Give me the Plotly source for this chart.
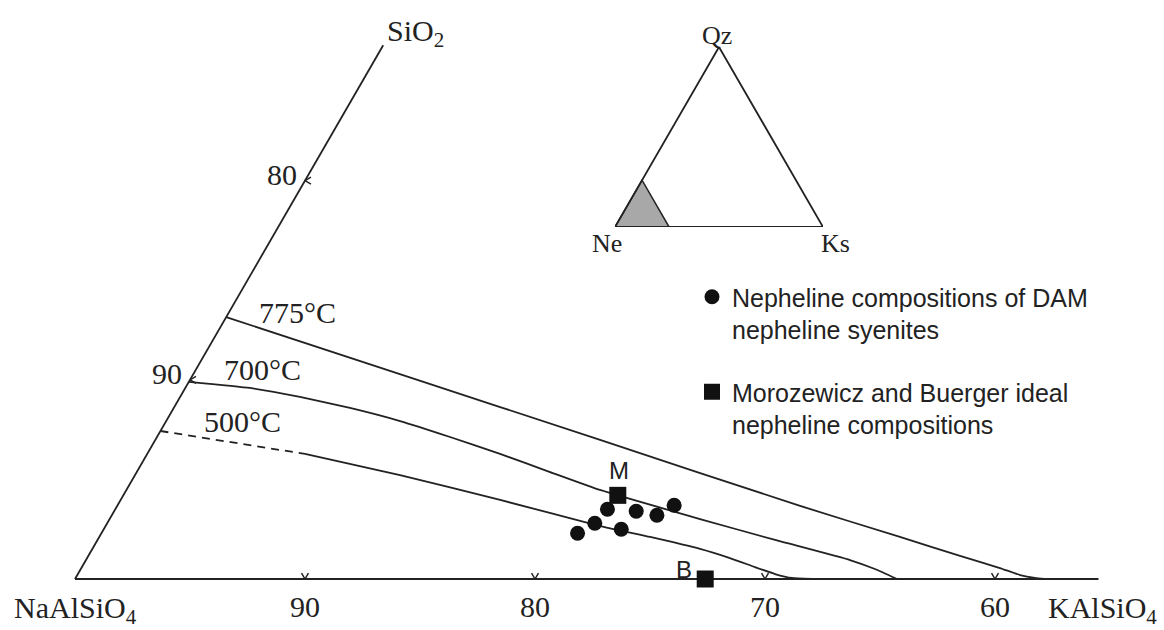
import math
import plotly.graph_objects as go

W, H = 1164, 630

# ---------------- data ----------------
# compositions in wt% KAlSiO4 (Ks) and excess SiO2 ; NaAlSiO4 = 100 - Ks - SiO2
iso775_ks = [0.0, 8.98, 19.34, 29.69, 34.81, 37.90, 39.94, 40.99, 41.71, 42.17]
iso775_si = [13.15, 10.29, 6.98, 3.67, 2.11, 1.16, 0.55, 0.20, 0.05, 0.0]

iso700_ks = [0.0, 2.81, 5.21, 7.66, 10.17, 12.74, 15.34, 17.97, 20.59, 25.67, 29.46, 33.22, 34.53, 35.74]
iso700_si = [9.9, 9.59, 9.14, 8.59, 7.93, 7.13, 6.28, 5.37, 4.47, 3.01, 1.96, 0.95, 0.50, 0.0]

iso500_dash_ks = [0.0, 6.86]
iso500_dash_si = [7.43, 6.28]
iso500_ks = [6.86, 11.52, 16.50, 21.50, 23.95, 26.42, 27.95, 29.26, 30.31, 31.15, 32.04]
iso500_si = [6.28, 5.22, 3.97, 2.66, 2.11, 1.51, 1.05, 0.60, 0.25, 0.05, 0.0]

isotherm_labels = ["775°C", "700°C", "500°C"]

dam_ks = [21.4, 22.7, 23.7, 24.2, 21.2, 22.5, 20.7]
dam_si = [3.5, 3.4, 3.2, 3.7, 2.8, 2.5, 2.3]

ideal_names = ["M", "B"]
ideal_ks = [21.5, 27.4]
ideal_si = [4.2, 0.0]

base_tick_ne = [90, 80, 70, 60]
edge_tick_ne = [90, 80]
base_end_ks = 44.5
edge_end_si = 26.8

inset_corner_labels = ["Ne", "Ks", "Qz"]
inset_field = 26.0  # % Ks and % Qz bounding the enlarged field

legend_names = ["Nepheline compositions of DAM<br>nepheline syenites",
                "Morozewicz and Buerger ideal<br>nepheline compositions"]

# ---------------- helpers ----------------
S3 = math.sqrt(3) / 2


def tx(ks, si):
    return [k + s / 2 for k, s in zip(ks, si)]


def ty(si):
    return [s * S3 for s in si]


PX = 23.0           # pixels per wt% unit
OX, OY = 75, 579    # pixel position of the NaAlSiO4 corner


def paper(px, py):
    return px / W, 1 - py / H


INK = "#222222"
SERIF = "Liberation Serif, Times New Roman, serif"
SANS = "Liberation Sans, Arial, sans-serif"

fig = go.Figure()

# frame: base (Ne-Ks join) and left edge (Ne-SiO2 join)
fig.add_trace(go.Scatter(x=tx([0, base_end_ks], [0, 0]), y=ty([0, 0]),
                         mode="lines", line=dict(color=INK, width=2),
                         showlegend=False, hoverinfo="skip"))
fig.add_trace(go.Scatter(x=tx([0, 0], [0, edge_end_si]), y=ty([0, edge_end_si]),
                         mode="lines", line=dict(color=INK, width=1.8),
                         showlegend=False, hoverinfo="skip"))

# tick chevrons
tk_x, tk_y = [], []
for ne in base_tick_ne:
    x0 = tx([100 - ne], [0])[0]
    y0 = 0.0
    tk_x += [x0 - 0.15, x0, x0 + 0.15, None]
    tk_y += [y0 + 0.26, y0, y0 + 0.26, None]
for ne in edge_tick_ne:
    x0 = tx([0], [100 - ne])[0]
    y0 = ty([100 - ne])[0]
    tk_x += [x0 + 0.26, x0, x0 + 0.26, None]
    tk_y += [y0 + 0.15, y0, y0 - 0.15, None]
fig.add_trace(go.Scatter(x=tk_x, y=tk_y, mode="lines",
                         line=dict(color=INK, width=1.5),
                         showlegend=False, hoverinfo="skip"))

# isotherms
for ks, si in [(iso775_ks, iso775_si), (iso700_ks, iso700_si), (iso500_ks, iso500_si)]:
    fig.add_trace(go.Scatter(x=tx(ks, si), y=ty(si), mode="lines",
                             line=dict(color=INK, width=1.8, shape="spline", smoothing=0.4),
                             showlegend=False, hoverinfo="skip"))
fig.add_trace(go.Scatter(x=tx(iso500_dash_ks, iso500_dash_si), y=ty(iso500_dash_si),
                         mode="lines", line=dict(color=INK, width=1.8, dash="8px,6px"),
                         showlegend=False, hoverinfo="skip"))

# data points
fig.add_trace(go.Scatter(x=tx(dam_ks, dam_si), y=ty(dam_si), mode="markers",
                         marker=dict(symbol="circle", size=15, color="#111111"),
                         name=legend_names[0], legendgroup="a"))
fig.add_trace(go.Scatter(x=tx(ideal_ks, ideal_si), y=ty(ideal_si), mode="markers",
                         marker=dict(symbol="square", size=17, color="#111111"),
                         name=legend_names[1], legendgroup="b"))

# inset triangle (Ne - Ks - Qz)
fig.add_trace(go.Scatter(x=[0, inset_field, inset_field / 2, 0],
                         y=[0, 0, inset_field * S3, 0],
                         xaxis="x2", yaxis="y2", mode="lines", fill="toself",
                         fillcolor="#a8a8a8", line=dict(color=INK, width=1.5),
                         showlegend=False, hoverinfo="skip"))
fig.add_trace(go.Scatter(x=[0, 100, 50, 0], y=[0, 0, 100 * S3, 0],
                         xaxis="x2", yaxis="y2", mode="lines",
                         line=dict(color=INK, width=1.8),
                         showlegend=False, hoverinfo="skip"))

ann = []


def text(px, py, s, size=30, family=SERIF, xanchor="center"):
    xp, yp = paper(px, py)
    ann.append(dict(x=xp, y=yp, xref="paper", yref="paper", text=s, showarrow=False,
                    xanchor=xanchor, yanchor="middle",
                    font=dict(family=family, size=size, color=INK)))


text(385, 33, "SiO<sub>2</sub>", xanchor="left")
text(12, 610, "NaAlSiO<sub>4</sub>", xanchor="left")
text(1046, 610, "KAlSiO<sub>4</sub>", xanchor="left")
for lab, (px, py) in zip(isotherm_labels, [(297, 312), (262, 369), (242, 421)]):
    text(px, py, lab)

# axis tick labels
for ne in base_tick_ne:
    ann.append(dict(x=tx([100 - ne], [0])[0], y=0, xref="x", yref="y", text=str(ne),
                    showarrow=False, yshift=-27,
                    font=dict(family=SERIF, size=30, color=INK)))
for ne in edge_tick_ne:
    ann.append(dict(x=tx([0], [100 - ne])[0], y=ty([100 - ne])[0], xref="x", yref="y",
                    text=str(ne), showarrow=False, xshift=-23, yshift=6,
                    font=dict(family=SERIF, size=30, color=INK)))

# M / B labels
for nm, k, s, dx, dy in zip(ideal_names, ideal_ks, ideal_si, [1, -21], [25, 10]):
    ann.append(dict(x=tx([k], [s])[0], y=ty([s])[0], xref="x", yref="y", text=nm,
                    showarrow=False, xshift=dx, yshift=dy,
                    font=dict(family=SANS, size=24, color=INK)))

# inset corner labels
for lab, (x0, y0), (dx, dy) in zip(inset_corner_labels,
                                   [(0, 0), (100, 0), (50, 100 * S3)],
                                   [(-8, -17), (12, -17), (-2, 11)]):
    ann.append(dict(x=x0, y=y0, xref="x2", yref="y2", text=lab, showarrow=False,
                    xshift=dx, yshift=dy, font=dict(family=SERIF, size=26, color=INK)))

x2d = [615 / W, 823 / W]
y2d = [1 - 227 / H, 1 - 47 / H]

fig.update_layout(
    width=W, height=H,
    margin=dict(l=0, r=0, t=0, b=0),
    paper_bgcolor="white", plot_bgcolor="white",
    xaxis=dict(range=[(0 - OX) / PX, (W - OX) / PX], visible=False, domain=[0, 1]),
    yaxis=dict(range=[(OY - H) / PX, OY / PX], visible=False, domain=[0, 1]),
    xaxis2=dict(range=[0, 100], domain=x2d, visible=False, anchor="y2"),
    yaxis2=dict(range=[0, 100 * S3], domain=y2d, visible=False, anchor="x2"),
    showlegend=True,
    legend=dict(x=692 / W, y=1 - 274 / H, xanchor="left", yanchor="top",
                font=dict(family=SANS, size=25, color=INK),
                bgcolor="rgba(0,0,0,0)", tracegroupgap=27, valign="top"),
    annotations=ann,
)

fig.write_html("out.html", config={"displayModeBar": False},
               post_script="document.body.style.margin='0px';")
